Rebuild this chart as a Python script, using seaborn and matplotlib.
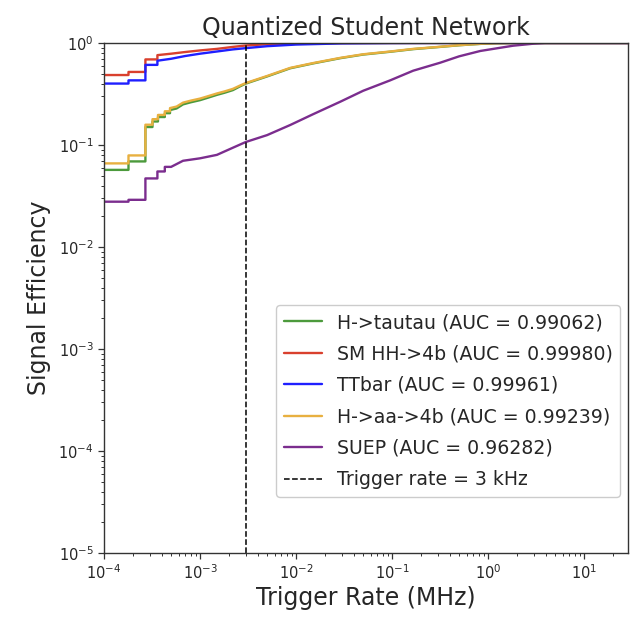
import matplotlib
matplotlib.use("Agg")
import matplotlib.pyplot as plt
import numpy as np
import pandas as pd
import seaborn as sns

# Trigger rate (MHz) and signal efficiency for each signal sample
tautau_rate = [1e-4, 1.8e-4, 1.8e-4, 2.7e-4, 2.7e-4, 3.2e-4, 3.2e-4, 3.65e-4, 3.65e-4, 4.3e-4, 4.3e-4,
               4.87e-4, 4.87e-4, 5.7e-4, 6.65e-4, 8e-4, 1e-3, 1.2e-3, 1.5e-3, 1.8e-3, 2.2e-3, 2.6e-3,
               3e-3, 5e-3, 8.7e-3, 0.015, 0.029, 0.05, 0.0955, 0.166, 0.316, 0.5, 0.83, 1.2, 2.0, 28.6]
tautau_eff = [0.057, 0.057, 0.069, 0.069, 0.150, 0.150, 0.170, 0.170, 0.188, 0.188, 0.205,
              0.205, 0.220, 0.228, 0.250, 0.262, 0.275, 0.290, 0.310, 0.325, 0.345, 0.375,
              0.400, 0.470, 0.565, 0.630, 0.710, 0.770, 0.820, 0.870, 0.915, 0.950, 0.980, 0.995, 1.0, 1.0]

hh4b_rate = [1e-4, 1.8e-4, 1.8e-4, 2.7e-4, 2.7e-4, 3.6e-4, 3.6e-4, 5e-4, 7e-4, 1e-3, 1.5e-3,
             2.2e-3, 3e-3, 5e-3, 0.01, 0.03, 0.1, 28.6]
hh4b_eff = [0.485, 0.485, 0.52, 0.52, 0.69, 0.69, 0.76, 0.785, 0.815, 0.845, 0.875,
            0.915, 0.945, 0.972, 0.99, 0.998, 1.0, 1.0]

ttbar_rate = [1e-4, 1.8e-4, 1.8e-4, 2.7e-4, 2.7e-4, 3.6e-4, 3.6e-4, 5e-4, 7e-4, 1e-3, 1.5e-3,
              2.2e-3, 3e-3, 5e-3, 0.01, 0.03, 0.1, 0.3, 28.6]
ttbar_eff = [0.40, 0.40, 0.43, 0.43, 0.61, 0.61, 0.67, 0.70, 0.745, 0.785, 0.825,
             0.865, 0.89, 0.93, 0.965, 0.99, 0.998, 1.0, 1.0]

haa4b_rate = [1e-4, 1.8e-4, 1.8e-4, 2.7e-4, 2.7e-4, 3.2e-4, 3.2e-4, 3.65e-4, 3.65e-4, 4.3e-4, 4.3e-4,
              4.87e-4, 4.87e-4, 5.7e-4, 6.65e-4, 8e-4, 1e-3, 1.2e-3, 1.5e-3, 1.8e-3, 2.2e-3, 2.6e-3,
              3e-3, 5e-3, 8.7e-3, 0.015, 0.029, 0.05, 0.0955, 0.166, 0.316, 0.5, 0.83, 1.2, 2.0, 28.6]
haa4b_eff = [0.066, 0.066, 0.079, 0.079, 0.158, 0.158, 0.179, 0.179, 0.197, 0.197, 0.214,
             0.214, 0.230, 0.238, 0.260, 0.272, 0.285, 0.300, 0.320, 0.335, 0.355, 0.382,
             0.405, 0.475, 0.570, 0.635, 0.715, 0.775, 0.825, 0.875, 0.918, 0.952, 0.981, 0.995, 1.0, 1.0]

suep_rate = [1e-4, 1.8e-4, 1.8e-4, 2.7e-4, 2.7e-4, 3.6e-4, 3.6e-4, 4.3e-4, 4.3e-4, 5e-4, 6.65e-4,
             1e-3, 1.5e-3, 2.2e-3, 3e-3, 5e-3, 8.7e-3, 0.015, 0.029, 0.05, 0.0955, 0.166, 0.316,
             0.5, 0.83, 1.82, 3.0, 3.9, 28.6]
suep_eff = [0.0278, 0.0278, 0.029, 0.029, 0.047, 0.047, 0.055, 0.055, 0.061, 0.061, 0.070,
            0.074, 0.080, 0.094, 0.107, 0.125, 0.157, 0.200, 0.266, 0.340, 0.430, 0.535, 0.640,
            0.740, 0.835, 0.940, 0.985, 1.0, 1.0]

labels = ["H->tautau", "SM HH->4b", "TTbar", "H->aa->4b", "SUEP"]
aucs = [0.99062, 0.99980, 0.99961, 0.99239, 0.96282]
colors = ["#4c9a3c", "#d9402e", "#1f1fff", "#e8b040", "#7b2d8e"]
rates = [tautau_rate, hh4b_rate, ttbar_rate, haa4b_rate, suep_rate]
effs = [tautau_eff, hh4b_eff, ttbar_eff, haa4b_eff, suep_eff]

trigger_rate_mhz = 3e-3

sns.set_theme(style="ticks")
plt.rcParams["font.family"] = ["DejaVu Sans"]

fig = plt.figure(figsize=(6.34, 6.21), dpi=100)
ax = fig.add_axes([0.164, 0.1095, 0.8265, 0.8213])

for lab, auc, col, r, e in zip(labels, aucs, colors, rates, effs):
    df = pd.DataFrame({"rate": r, "eff": e})
    sns.lineplot(data=df, x="rate", y="eff", sort=False, estimator=None, color=col,
                 linewidth=1.7, label=f"{lab} (AUC = {auc:.5f})", ax=ax)

ax.axvline(trigger_rate_mhz, color="black", linestyle="--", linewidth=1.1,
           label="Trigger rate = 3 kHz")

ax.set_xscale("log")
ax.set_yscale("log")
ax.set_xlim(1e-4, 28.6)
ax.set_ylim(1e-5, 1)

ax.set_title("Quantized Student Network", fontsize=17, pad=6)
ax.set_xlabel("Trigger Rate (MHz)", fontsize=17, labelpad=3)
ax.set_ylabel("Signal Efficiency", fontsize=17, labelpad=5)
ax.tick_params(axis="both", which="major", labelsize=10.5, length=4, width=0.9, color="#333333")
ax.tick_params(axis="both", which="minor", length=2.2, width=0.7, color="#333333")
for s in ax.spines.values():
    s.set_color("#333333")
    s.set_linewidth(1.0)

ax.legend(loc="lower right", bbox_to_anchor=(0.985, 0.11), borderaxespad=0,
          fontsize=13.6, frameon=True, framealpha=1, edgecolor="#cccccc", fancybox=True,
          handlelength=2.0, labelspacing=0.66)

fig.savefig("out.png", dpi=100, facecolor="white")
